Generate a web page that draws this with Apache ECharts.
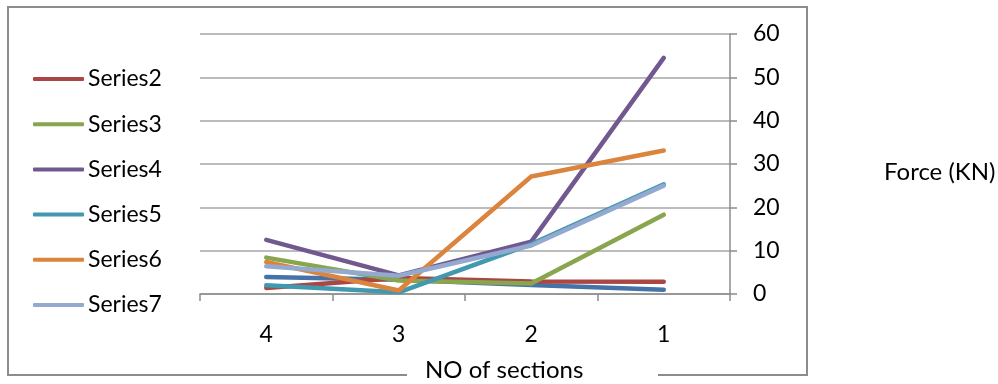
<!DOCTYPE html>
<html><head><meta charset="utf-8">
<script src="https://cdn.jsdelivr.net/npm/echarts@6/dist/echarts.min.js"></script>
<style>html,body{margin:0;padding:0;background:#fff}#c{width:998px;height:384px}</style>
</head><body><div id="c"></div>
<script>
const categories = ['4', '3', '2', '1'];
const seriesNames = ['Series1', 'Series2', 'Series3', 'Series4', 'Series5', 'Series6', 'Series7'];
const series1 = [3.9, 3.3, 2.1, 1.0];
const series2 = [1.4, 3.7, 2.9, 2.8];
const series3 = [8.4, 3.1, 2.4, 18.3];
const series4 = [12.5, 4.3, 12.1, 54.5];
const series5 = [2.0, 0.4, 11.5, 25.3];
const series6 = [7.4, 0.8, 27.1, 33.1];
const series7 = [6.4, 4.2, 11.2, 25.0];
const legendNames = ['Series2', 'Series3', 'Series4', 'Series5', 'Series6', 'Series7'];
const xTitle = 'NO of sections';
const yTitle = 'Force (KN)';

const colors = ['#4572A7', '#AA4643', '#89A54E', '#71588F', '#4198AF', '#DB843D', '#93A9CF'];
const FONT = 'Lato';
const FS = 23;
const allData = [series1, series2, series3, series4, series5, series6, series7];

const chart = echarts.init(document.getElementById('c'));
chart.setOption({
  animation: false,
  color: colors,
  textStyle: { fontFamily: FONT },
  grid: { left: 200, right: 268, top: 34, bottom: 90, containLabel: false },
  legend: {
    data: legendNames,
    orient: 'vertical',
    left: 33, top: 67, padding: 0,
    icon: 'roundRect',
    itemWidth: 51, itemHeight: 4,
    itemGap: 21.2,
    textStyle: { fontFamily: FONT, fontSize: FS, color: '#000', lineHeight: 24, padding: [0, 0, 0, -1] }
  },
  title: [
    { text: xTitle, left: 425, top: 358, padding: 0, textStyle: { fontFamily: FONT, fontSize: 24, fontWeight: 'normal', color: '#000' } },
    { text: yTitle, left: 884, top: 160, padding: 0, textStyle: { fontFamily: FONT, fontSize: 24, fontWeight: 'normal', color: '#000' } }
  ],
  graphic: [
    { type: 'rect', shape: { x: 8, y: 7, width: 799, height: 368 }, style: { fill: 'none', stroke: '#8c8c8c', lineWidth: 2 }, z: 0 },
    { type: 'rect', shape: { x: 407, y: 368, width: 251, height: 14 }, style: { fill: '#fff' }, z: 1 }
  ],
  xAxis: {
    type: 'category', data: categories, boundaryGap: true,
    axisLine: { lineStyle: { color: '#8c8c8c', width: 1.5 } },
    axisTick: { show: true, length: 7, inside: false, lineStyle: { color: '#8c8c8c', width: 1.5 } },
    axisLabel: { fontFamily: FONT, fontSize: FS, color: '#000', margin: 29 }
  },
  yAxis: {
    type: 'value', position: 'right', min: 0, max: 60, interval: 10,
    axisLine: { show: true, lineStyle: { color: '#8c8c8c', width: 1.5 } },
    axisTick: { show: true, length: 7, lineStyle: { color: '#8c8c8c', width: 1.5 } },
    splitLine: { lineStyle: { color: '#a6a6a6', width: 1.5 } },
    axisLabel: { fontFamily: FONT, fontSize: FS, color: '#000', margin: 23, align: 'left' }
  },
  series: seriesNames.map((n, i) => ({
    name: n, type: 'line', data: allData[i], showSymbol: false, symbol: 'none',
    lineStyle: { width: 4.5, cap: 'round', join: 'round', color: colors[i] },
    itemStyle: { color: colors[i] }
  }))
});
</script></body></html>
